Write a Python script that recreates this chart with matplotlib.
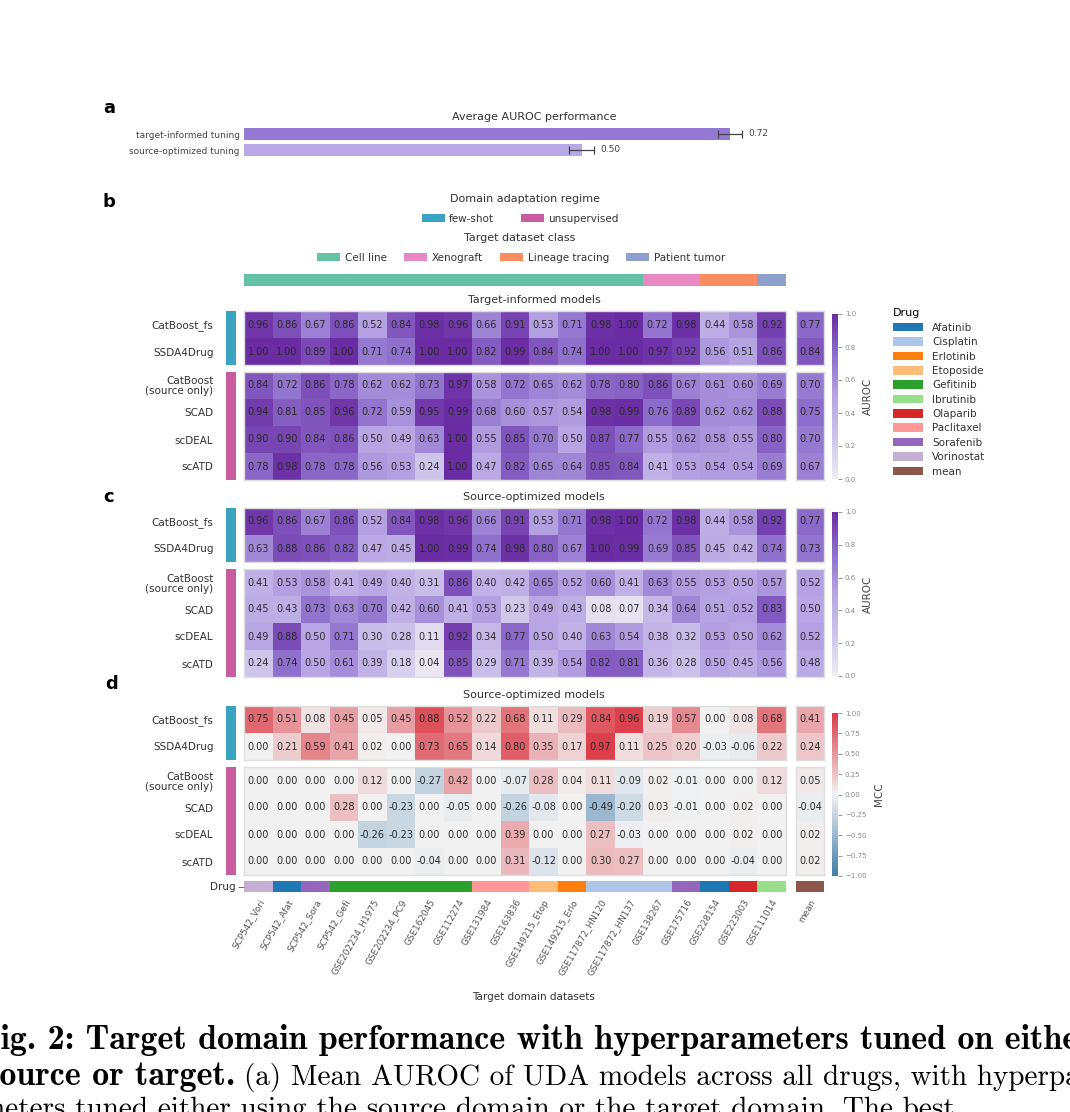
import numpy as np
import matplotlib
matplotlib.use("Agg")
import matplotlib.pyplot as plt
from matplotlib.colors import LinearSegmentedColormap, Normalize, ListedColormap
from matplotlib.patches import Patch
from matplotlib.cm import ScalarMappable
from matplotlib.ticker import FuncFormatter
import seaborn as sns

# ---------------- data ----------------
datasets = ["SCP542_Vori", "SCP542_Afat", "SCP542_Sora", "SCP542_Gefi",
            "GSE202234_H1975", "GSE202234_PC9", "GSE162045", "GSE112274",
            "GSE131984", "GSE163836", "GSE149215_Etop", "GSE149215_Erlo",
            "GSE117872_HN120", "GSE117872_HN137", "GSE138267", "GSE175716",
            "GSE228154", "GSE223003", "GSE111014"]
dataset_drug = ["Vorinostat", "Afatinib", "Sorafenib", "Gefitinib", "Gefitinib",
                "Gefitinib", "Gefitinib", "Gefitinib", "Paclitaxel", "Paclitaxel",
                "Etoposide", "Erlotinib", "Cisplatin", "Cisplatin", "Cisplatin",
                "Sorafenib", "Afatinib", "Olaparib", "Ibrutinib"]
dataset_class = ["Cell line"] * 14 + ["Xenograft"] * 2 + ["Lineage tracing"] * 2 + ["Patient tumor"]
class_names = ["Cell line", "Xenograft", "Lineage tracing", "Patient tumor"]
drug_names = ["Afatinib", "Cisplatin", "Erlotinib", "Etoposide", "Gefitinib",
              "Ibrutinib", "Olaparib", "Paclitaxel", "Sorafenib", "Vorinostat", "mean"]
regimes = ["few-shot", "unsupervised"]
fewshot_models = ["CatBoost_fs", "SSDA4Drug"]
uda_models = ["CatBoost\n(source only)", "SCAD", "scDEAL", "scATD"]

tuning_labels = ["target-informed tuning", "source-optimized tuning"]
tuning_auroc = [0.72, 0.50]
tuning_err = [0.018, 0.019]

# panel b: target-informed AUROC
b_fewshot = [
    [0.96, 0.86, 0.67, 0.86, 0.52, 0.84, 0.98, 0.96, 0.66, 0.91, 0.53, 0.71, 0.98, 1.00, 0.72, 0.98, 0.44, 0.58, 0.92],
    [1.00, 1.00, 0.89, 1.00, 0.71, 0.74, 1.00, 1.00, 0.82, 0.99, 0.84, 0.74, 1.00, 1.00, 0.97, 0.92, 0.56, 0.51, 0.86]]
b_fewshot_mean = [0.77, 0.84]
b_uda = [
    [0.84, 0.72, 0.86, 0.78, 0.62, 0.62, 0.73, 0.97, 0.58, 0.72, 0.65, 0.62, 0.78, 0.80, 0.86, 0.67, 0.61, 0.60, 0.69],
    [0.94, 0.81, 0.85, 0.96, 0.72, 0.59, 0.95, 0.99, 0.68, 0.60, 0.57, 0.54, 0.98, 0.99, 0.76, 0.89, 0.62, 0.62, 0.88],
    [0.90, 0.90, 0.84, 0.86, 0.50, 0.49, 0.63, 1.00, 0.55, 0.85, 0.70, 0.50, 0.87, 0.77, 0.55, 0.62, 0.58, 0.55, 0.80],
    [0.78, 0.98, 0.78, 0.78, 0.56, 0.53, 0.24, 1.00, 0.47, 0.82, 0.65, 0.64, 0.85, 0.84, 0.41, 0.53, 0.54, 0.54, 0.69]]
b_uda_mean = [0.70, 0.75, 0.70, 0.67]

# panel c: source-optimized AUROC
c_fewshot = [
    [0.96, 0.86, 0.67, 0.86, 0.52, 0.84, 0.98, 0.96, 0.66, 0.91, 0.53, 0.71, 0.98, 1.00, 0.72, 0.98, 0.44, 0.58, 0.92],
    [0.63, 0.88, 0.86, 0.82, 0.47, 0.45, 1.00, 0.99, 0.74, 0.98, 0.80, 0.67, 1.00, 0.99, 0.69, 0.85, 0.45, 0.42, 0.74]]
c_fewshot_mean = [0.77, 0.73]
c_uda = [
    [0.41, 0.53, 0.58, 0.41, 0.49, 0.40, 0.31, 0.86, 0.40, 0.42, 0.65, 0.52, 0.60, 0.41, 0.63, 0.55, 0.53, 0.50, 0.57],
    [0.45, 0.43, 0.73, 0.63, 0.70, 0.42, 0.60, 0.41, 0.53, 0.23, 0.49, 0.43, 0.08, 0.07, 0.34, 0.64, 0.51, 0.52, 0.83],
    [0.49, 0.88, 0.50, 0.71, 0.30, 0.28, 0.11, 0.92, 0.34, 0.77, 0.50, 0.40, 0.63, 0.54, 0.38, 0.32, 0.53, 0.50, 0.62],
    [0.24, 0.74, 0.50, 0.61, 0.39, 0.18, 0.04, 0.85, 0.29, 0.71, 0.39, 0.54, 0.82, 0.81, 0.36, 0.28, 0.50, 0.45, 0.56]]
c_uda_mean = [0.52, 0.50, 0.52, 0.48]

# panel d: source-optimized MCC
d_fewshot = [
    [0.75, 0.51, 0.08, 0.45, 0.05, 0.45, 0.88, 0.52, 0.22, 0.68, 0.11, 0.29, 0.84, 0.96, 0.19, 0.57, 0.00, 0.08, 0.68],
    [0.00, 0.21, 0.59, 0.41, 0.02, 0.00, 0.73, 0.65, 0.14, 0.80, 0.35, 0.17, 0.97, 0.11, 0.25, 0.20, -0.03, -0.06, 0.22]]
d_fewshot_mean = [0.41, 0.24]
d_uda = [
    [0.00, 0.00, 0.00, 0.00, 0.12, 0.00, -0.27, 0.42, 0.00, -0.07, 0.28, 0.04, 0.11, -0.09, 0.02, -0.01, 0.00, 0.00, 0.12],
    [0.00, 0.00, 0.00, 0.28, 0.00, -0.23, 0.00, -0.05, 0.00, -0.26, -0.08, 0.00, -0.49, -0.20, 0.03, -0.01, 0.00, 0.02, 0.00],
    [0.00, 0.00, 0.00, 0.00, -0.26, -0.23, 0.00, 0.00, 0.00, 0.39, 0.00, 0.00, 0.27, -0.03, 0.00, 0.00, 0.00, 0.02, 0.00],
    [0.00, 0.00, 0.00, 0.00, 0.00, 0.00, -0.04, 0.00, 0.00, 0.31, -0.12, 0.00, 0.30, 0.27, 0.00, 0.00, 0.00, -0.04, 0.00]]
d_uda_mean = [0.05, -0.04, 0.02, 0.02]

caption_line1 = "Fig. 2: Target domain performance with hyperparameters tuned on either"
caption_line2_bold = "source or target."
caption_line2 = "(a) Mean AUROC of UDA models across all drugs, with hyperparameters"
caption_line3 = "rameters tuned either using the source domain or the target domain. The best"

# ---------------- styles ----------------
drug_colors = ["#1f77b4", "#aec7e8", "#ff7f0e", "#ffbb78", "#2ca02c",
               "#98df8a", "#d62728", "#ff9896", "#9467bd", "#c5b0d5", "#8c564b"]
class_colors = ["#66c2a5", "#e78ac3", "#fc8d62", "#8da0cb"]
regime_colors = ["#3aa3c0", "#c95c9f"]
auroc_cmap = LinearSegmentedColormap.from_list(
    "auroc", ["#efedf3", "#cdc3ea", "#b7a6e3", "#8e6fcc", "#6a2ca3"])
mcc_cmap = sns.diverging_palette(240, 10, as_cmap=True)
TXT = "#333333"

W, H = 1070, 1112
fig = plt.figure(figsize=(W / 100, H / 100), dpi=100)
plt.rcParams["font.family"] = ["DejaVu Sans"]


def px_axes(x0, y0, x1, y1):
    return fig.add_axes([x0 / W, 1 - y1 / H, (x1 - x0) / W, (y1 - y0) / H])


def fx(x):
    return x / W


def fy(y):
    return 1 - y / H


X0, X1 = 244, 786
M0, M1 = 796, 824
REG0, REG1 = 226, 236


def style_block(ax, color="#dedede"):
    ax.set_xticks([])
    ax.set_yticks([])
    for s in ax.spines.values():
        s.set_color(color)
        s.set_linewidth(1.0)


def draw_block(ax, data, cmap, norm):
    arr = np.array(data, dtype=float)
    if arr.ndim == 1:
        arr = arr[:, None]
    nr, nc = arr.shape
    ax.pcolormesh(np.arange(nc + 1), np.arange(nr + 1), arr, cmap=cmap, norm=norm)
    ax.set_xlim(0, nc)
    ax.set_ylim(nr, 0)
    for i in range(nr):
        for j in range(nc):
            ax.text(j + 0.5, i + 0.5, f"{arr[i, j]:.2f}", ha="center", va="center",
                    fontsize=7, color="#2a2a2a")
    style_block(ax)


def draw_regime(y0, y1, labels, regime_idx):
    ax = px_axes(REG0, y0, REG1, y1)
    n = len(labels)
    ax.pcolormesh([0, 1], np.arange(n + 1), np.full((n, 1), regime_idx),
                  cmap=ListedColormap(regime_colors), vmin=-0.5, vmax=1.5)
    ax.set_xlim(0, 1)
    ax.set_ylim(n, 0)
    ax.set_xticks([])
    ax.set_yticks(np.arange(n) + 0.5)
    ax.set_yticklabels(labels, fontsize=7.5, color=TXT, linespacing=1.0)
    ax.tick_params(axis="y", length=0, pad=9)
    for s in ax.spines.values():
        s.set_visible(False)


def draw_panel(top, fs, fs_mean, uda, uda_mean, cmap, norm, title):
    ytop0, ytop1 = top, top + 54
    ylow0, ylow1 = top + 61, top + 169
    fig.text(fx(534), fy(top - 11), title, ha="center", va="center", fontsize=8, color=TXT)
    draw_block(px_axes(X0, ytop0, X1, ytop1), fs, cmap, norm)
    draw_block(px_axes(M0, ytop0, M1, ytop1), fs_mean, cmap, norm)
    draw_block(px_axes(X0, ylow0, X1, ylow1), uda, cmap, norm)
    draw_block(px_axes(M0, ylow0, M1, ylow1), uda_mean, cmap, norm)
    draw_regime(ytop0, ytop1, fewshot_models, 0)
    draw_regime(ylow0, ylow1, uda_models, 1)


def draw_cbar(y0, y1, cmap, norm, ticks, label, fmt):
    cax = px_axes(832, y0, 838, y1)
    cb = fig.colorbar(ScalarMappable(norm=norm, cmap=cmap), cax=cax)
    cb.set_ticks(ticks)
    cb.ax.yaxis.set_major_formatter(FuncFormatter(fmt))
    cb.ax.tick_params(labelsize=5, colors="#888888", length=3, width=0.6, pad=2)
    cb.outline.set_visible(False)
    cb.set_label(label, fontsize=7.5, color="#444444", labelpad=5)


# ---------------- panel labels ----------------
for lab, (x, y) in zip("abcd", [(109, 108), (109, 202), (109, 497), (112, 684)]):
    fig.text(fx(x), fy(y), lab, fontsize=13, fontweight="bold", ha="center", va="center")

# ---------------- panel a ----------------
axa = px_axes(X0, 126, M1, 158)
ypos = np.arange(len(tuning_labels))
axa.barh(ypos, tuning_auroc, height=0.75, color=["#9379d3", "#b9a8e6"], zorder=1)
axa.errorbar(tuning_auroc, ypos, xerr=tuning_err, fmt="none", ecolor="#444444",
             elinewidth=0.9, capsize=3, capthick=0.9, zorder=2)
for yv, v, e in zip(ypos, tuning_auroc, tuning_err):
    axa.text(v + e + 0.009, yv, f"{v:.2f}", va="center", ha="left", fontsize=6.5, color="#444444")
axa.set_xlim(0, 0.859)
axa.set_ylim(1.5, -0.5)
axa.set_yticks(ypos)
axa.set_yticklabels(tuning_labels, fontsize=6.5, color="#444444")
axa.tick_params(axis="y", length=0, pad=3)
axa.set_xticks([])
for s in axa.spines.values():
    s.set_visible(False)
fig.text(fx(534), fy(117), "Average AUROC performance", ha="center", va="center",
         fontsize=8, color=TXT)

# ---------------- panel b header ----------------
fig.text(fx(525), fy(199), "Domain adaptation regime", ha="center", va="center", fontsize=8, color=TXT)
fig.legend(handles=[Patch(facecolor=c, label=l) for c, l in zip(regime_colors, regimes)],
           loc="center", bbox_to_anchor=(fx(520), fy(219)), ncol=2, frameon=False,
           fontsize=7.5, handlelength=2.2, handleheight=0.8, handletextpad=0.4,
           columnspacing=2.6, labelcolor=TXT)
fig.text(fx(520), fy(238), "Target dataset class", ha="center", va="center", fontsize=8, color=TXT)
fig.legend(handles=[Patch(facecolor=c, label=l) for c, l in zip(class_colors, class_names)],
           loc="center", bbox_to_anchor=(fx(521), fy(258)), ncol=4, frameon=False,
           fontsize=7.5, handlelength=2.2, handleheight=0.8, handletextpad=0.5,
           columnspacing=1.6, labelcolor=TXT)
axcls = px_axes(X0, 274, X1, 286)
cls_idx = np.array([[class_names.index(c) for c in dataset_class]])
axcls.pcolormesh(np.arange(len(datasets) + 1), [0, 1], cls_idx,
                 cmap=ListedColormap(class_colors), vmin=-0.5, vmax=3.5)
axcls.set_xlim(0, len(datasets))
axcls.axis("off")

# ---------------- heatmaps ----------------
auroc_norm = Normalize(0, 1)
mcc_norm = Normalize(-1, 1)
draw_panel(311, b_fewshot, b_fewshot_mean, b_uda, b_uda_mean, auroc_cmap, auroc_norm,
           "Target-informed models")
draw_panel(508, c_fewshot, c_fewshot_mean, c_uda, c_uda_mean, auroc_cmap, auroc_norm,
           "Source-optimized models")
draw_panel(706, d_fewshot, d_fewshot_mean, d_uda, d_uda_mean, mcc_cmap, mcc_norm,
           "Source-optimized models")

fmt1 = lambda v, p: f"{v:.1f}"
fmt2 = lambda v, p: f"{v:.2f}".replace("-", "\u2212")
draw_cbar(314, 479, auroc_cmap, auroc_norm, np.linspace(0, 1, 6), "AUROC", fmt1)
draw_cbar(512, 676, auroc_cmap, auroc_norm, np.linspace(0, 1, 6), "AUROC", fmt1)
draw_cbar(713, 876, mcc_cmap, mcc_norm, np.linspace(-1, 1, 9), "MCC", fmt2)

# ---------------- drug bar ----------------
axd = px_axes(X0, 881, X1, 892)
drug_idx = np.array([[drug_names.index(d) for d in dataset_drug]])
drug_cmap = ListedColormap(drug_colors)
axd.pcolormesh(np.arange(len(datasets) + 1), [0, 1], drug_idx, cmap=drug_cmap,
               vmin=-0.5, vmax=len(drug_names) - 0.5)
axd.set_xlim(0, len(datasets))
axd.set_ylim(1, 0)
axd.set_yticks([0.5])
axd.set_yticklabels(["Drug"], fontsize=7.5, color=TXT)
axd.tick_params(axis="y", length=4, width=0.6, color="#555555", pad=2)
axd.set_xticks(np.arange(len(datasets)) + 0.5)
axd.set_xticklabels(datasets, rotation=60, ha="right", rotation_mode="anchor",
                    fontsize=6.4, color="#555555")
axd.tick_params(axis="x", length=0, pad=4)
for s in axd.spines.values():
    s.set_visible(False)

axdm = px_axes(M0, 881, M1, 892)
axdm.pcolormesh([0, 1], [0, 1], np.array([[drug_names.index("mean")]]), cmap=drug_cmap,
                vmin=-0.5, vmax=len(drug_names) - 0.5)
axdm.set_xlim(0, 1)
axdm.set_yticks([])
axdm.set_xticks([0.5])
axdm.set_xticklabels(["mean"], rotation=60, ha="right", rotation_mode="anchor",
                     fontsize=6.4, color="#555555")
axdm.tick_params(axis="x", length=0, pad=4)
for s in axdm.spines.values():
    s.set_visible(False)

fig.text(fx(534), fy(997), "Target domain datasets", ha="center", va="center",
         fontsize=7.5, color=TXT)

# ---------------- drug legend ----------------
fig.legend(handles=[Patch(facecolor=c, label=l) for c, l in zip(drug_colors, drug_names)],
           title="Drug", loc="upper left", bbox_to_anchor=(fx(884), fy(299)), frameon=False,
           fontsize=7.5, title_fontsize=8, handlelength=2.8, handleheight=0.9,
           labelspacing=0.42, handletextpad=0.9, alignment="left", labelcolor=TXT)

# ---------------- caption (cropped at the page edges as in the reference) ----------------
fig.text(fx(-21), fy(1040), caption_line1, fontfamily="cmb10", fontsize=24.5,
         ha="left", va="center", color="black")
t_bold = fig.text(fx(-14), fy(1077), caption_line2_bold, fontfamily="cmb10", fontsize=24.5,
                  ha="left", va="center", color="black")
fig.canvas.draw()
bb = t_bold.get_window_extent()
fig.text((bb.x1 + 9) / W, fy(1077), caption_line2, fontfamily="cmr10", fontsize=21,
         ha="left", va="center", color="black")
fig.text(fx(-45), fy(1110), caption_line3, fontfamily="cmr10", fontsize=21,
         ha="left", va="center", color="black")

fig.savefig("out.png", dpi=100)
